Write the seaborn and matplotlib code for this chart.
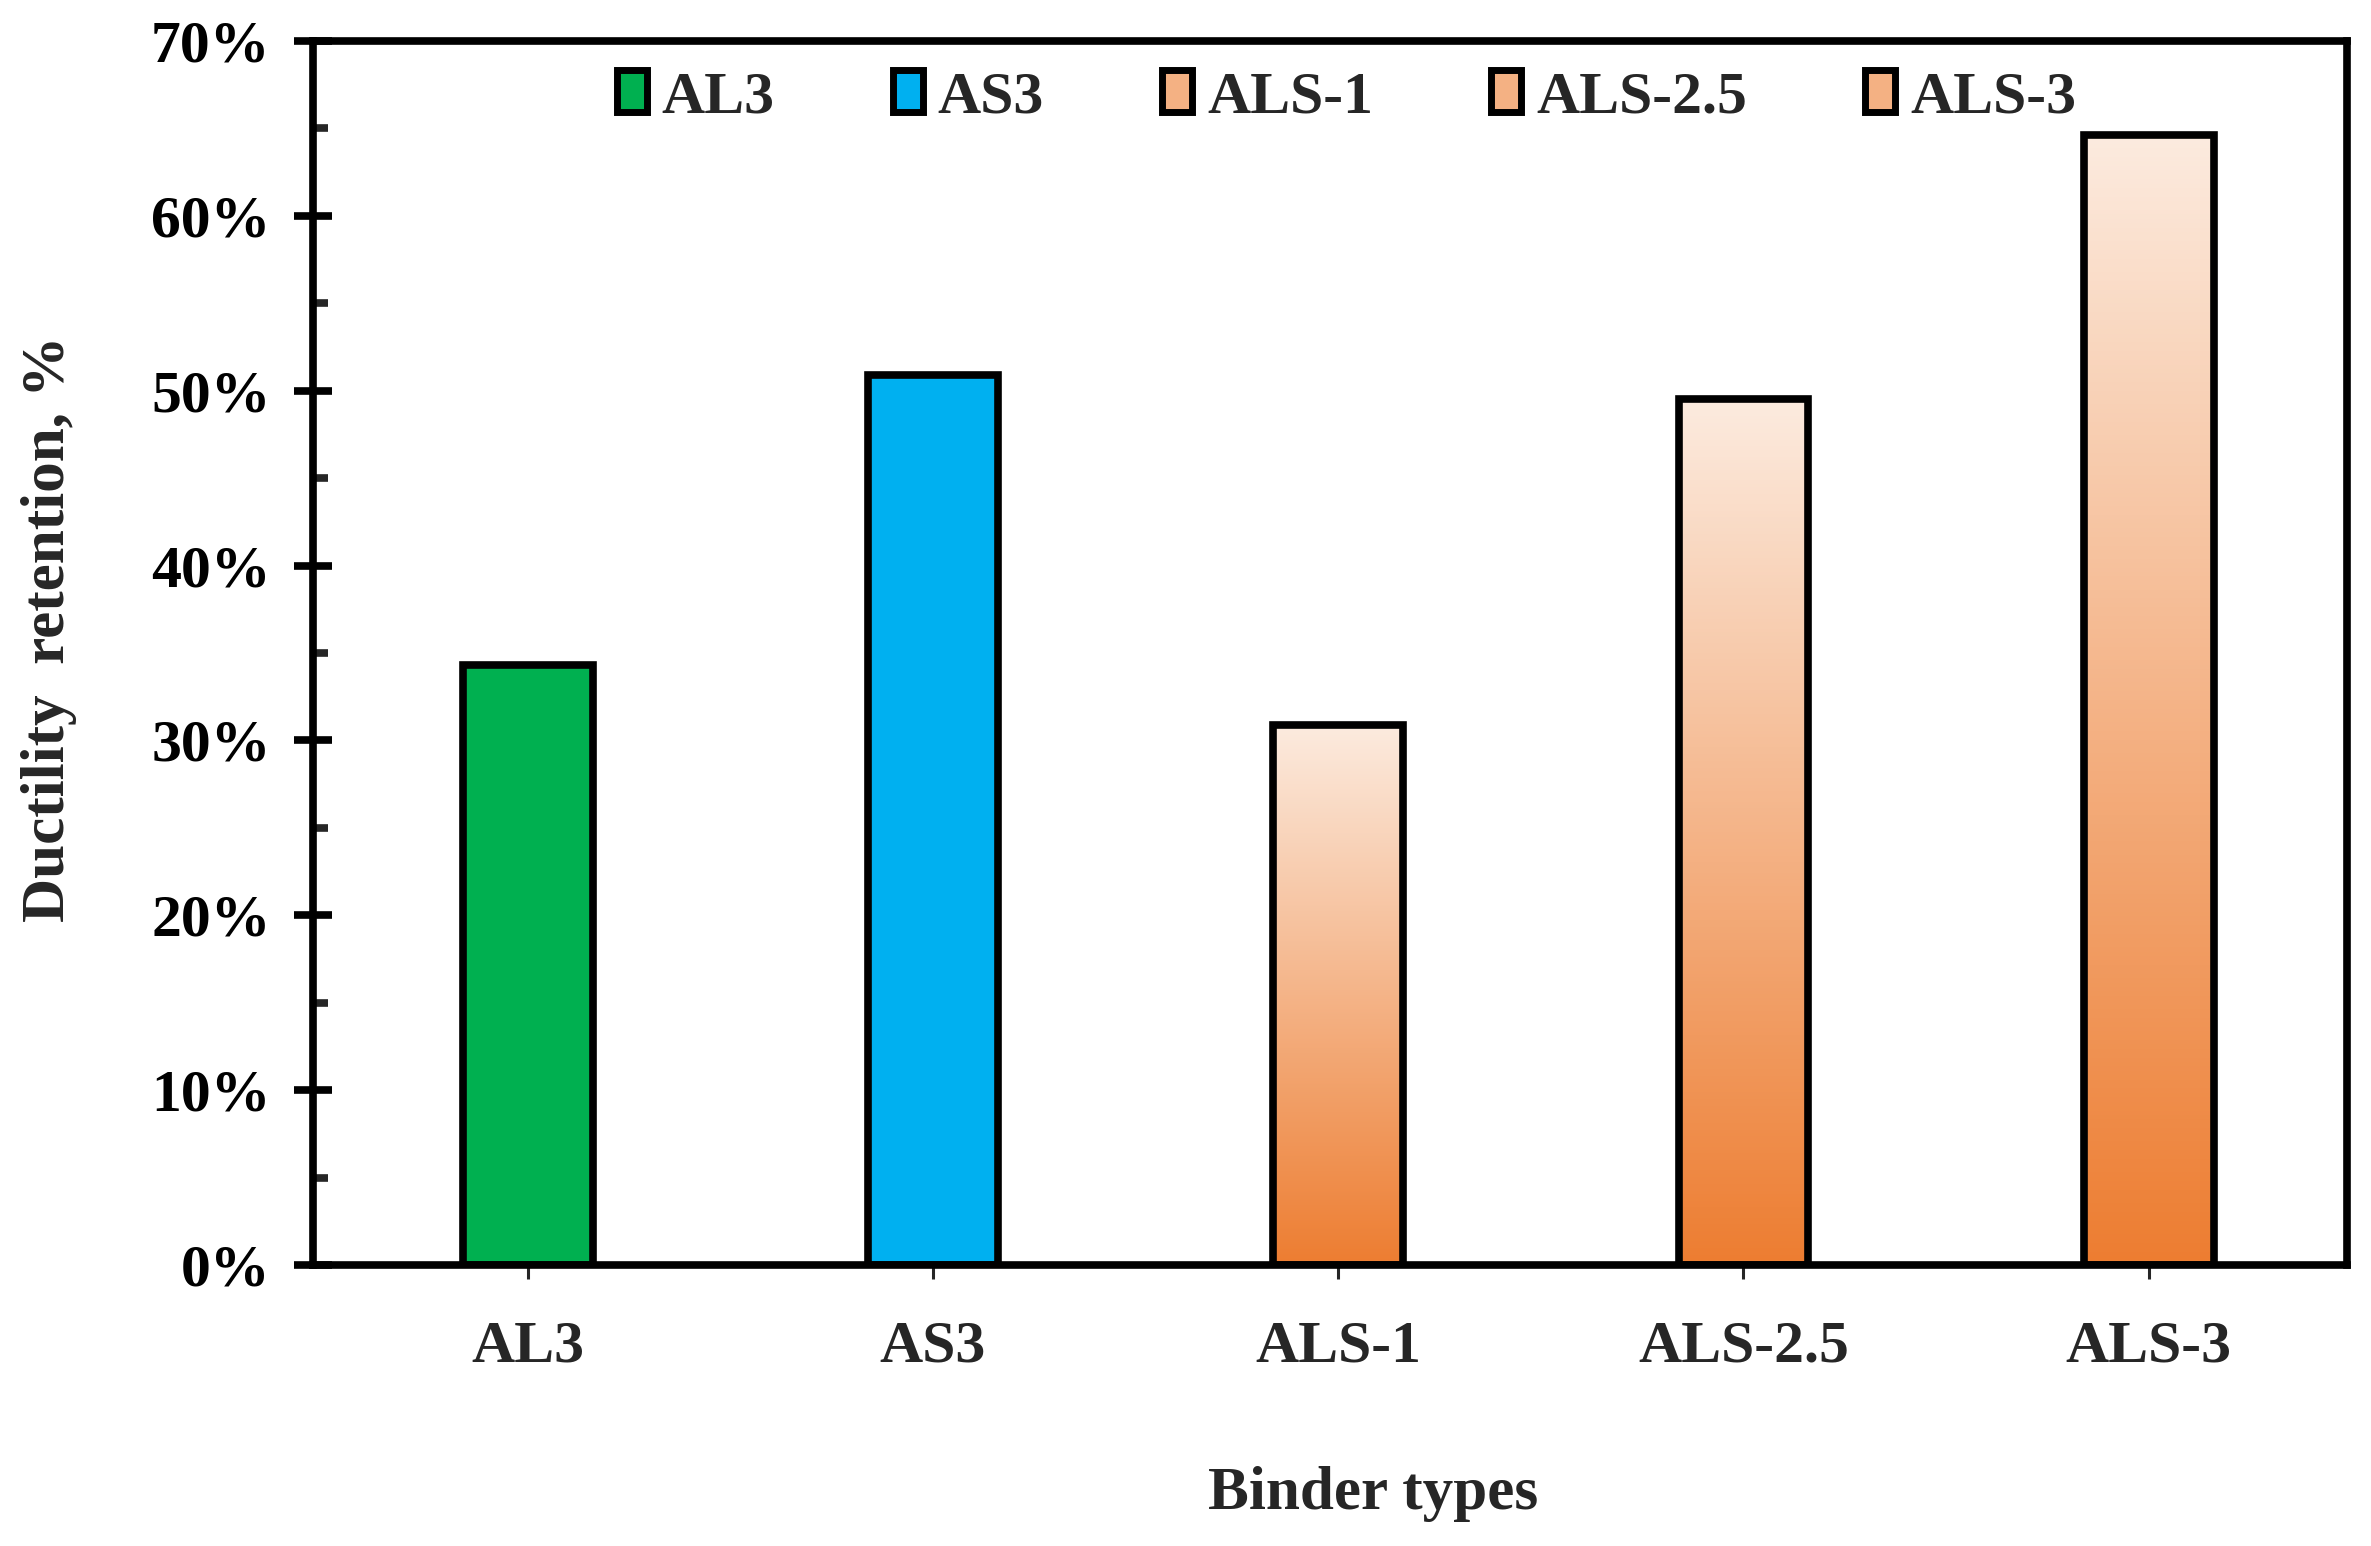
import numpy as np
import seaborn as sns
import matplotlib.pyplot as plt
from matplotlib.patches import Patch
from matplotlib.colors import LinearSegmentedColormap
from matplotlib.ticker import MultipleLocator, FuncFormatter

# data
binders = ['AL3', 'AS3', 'ALS-1', 'ALS-2.5', 'ALS-3']
retention = [34.3, 50.9, 30.9, 49.5, 64.6]
bar_colors = ['#00B050', '#00B0F0', '#F4B183', '#F4B183', '#F4B183']
gradient_bars = ['ALS-1', 'ALS-2.5', 'ALS-3']

sns.set_style('white')
plt.rcParams['font.family'] = ['Liberation Serif', 'DejaVu Serif']
plt.rcParams['font.weight'] = 'bold'

fig, ax = plt.subplots(figsize=(23.71, 15.46), dpi=100)
fig.subplots_adjust(left=0.132, right=0.990, top=0.9735, bottom=0.1818)

sns.barplot(x=binders, y=retention, hue=binders, palette=bar_colors,
            width=0.32, edgecolor='black', linewidth=5.5, legend=False,
            saturation=1, ax=ax)

# orange gradient for the ALS bars, light at the top, dark at the bottom
grad_cmap = LinearSegmentedColormap.from_list('als', ['#ED7D31', '#FCEBDF'])
grad = np.linspace(0, 1, 256).reshape(-1, 1)
for patch, name in zip(ax.patches, binders):
    if name in gradient_bars:
        x0 = patch.get_x()
        w = patch.get_width()
        h = patch.get_height()
        patch.set_facecolor('none')
        patch.set_zorder(3)
        im = ax.imshow(grad, cmap=grad_cmap, origin='lower', aspect='auto',
                       extent=(x0, x0 + w, 0, h), zorder=2)
        im.set_clip_path(patch)

ax.set_xlim(-0.53, 4.49)
ax.set_ylim(0, 70)
ax.yaxis.set_major_locator(MultipleLocator(10))
ax.yaxis.set_minor_locator(MultipleLocator(5))
ax.yaxis.set_major_formatter(FuncFormatter(lambda v, p: f'{v:.0f}%'))

for side in ['left', 'right', 'top', 'bottom']:
    ax.spines[side].set_visible(True)
    ax.spines[side].set_linewidth(5.5)
    ax.spines[side].set_color('black')
    ax.spines[side].set_zorder(5)

ax.tick_params(axis='y', which='major', direction='inout', length=27, width=5.5,
               pad=17, labelsize=43, left=True, colors='black')
ax.tick_params(axis='y', which='minor', direction='in', length=11, width=5.5,
               left=True)
ax.tick_params(axis='x', which='major', direction='inout', length=20, width=2.2,
               pad=30, labelsize=43, bottom=True)
for lab in ax.get_xticklabels() + ax.get_yticklabels():
    lab.set_fontweight('bold')

ax.set_xlabel('Binder types', fontsize=44, fontweight='bold')
ax.set_ylabel('Ductility  retention, %', fontsize=44, fontweight='bold')
ax.xaxis.set_label_coords(0.521, -0.187)
ax.xaxis.label.set_verticalalignment('center')
ax.yaxis.set_label_coords(-0.130, 0.52)
ax.yaxis.label.set_verticalalignment('center')

handles = [Patch(facecolor=c, edgecolor='black', linewidth=5, label=b)
           for b, c in zip(binders, bar_colors)]
ax.legend(handles=handles, loc='upper center', bbox_to_anchor=(0.508, 1.02),
          ncol=5, frameon=False, handlelength=0.5, handleheight=0.7,
          handletextpad=0.25, columnspacing=1.98, prop={'weight': 'bold', 'size': 43})

fig.savefig('out.png', dpi=100)
